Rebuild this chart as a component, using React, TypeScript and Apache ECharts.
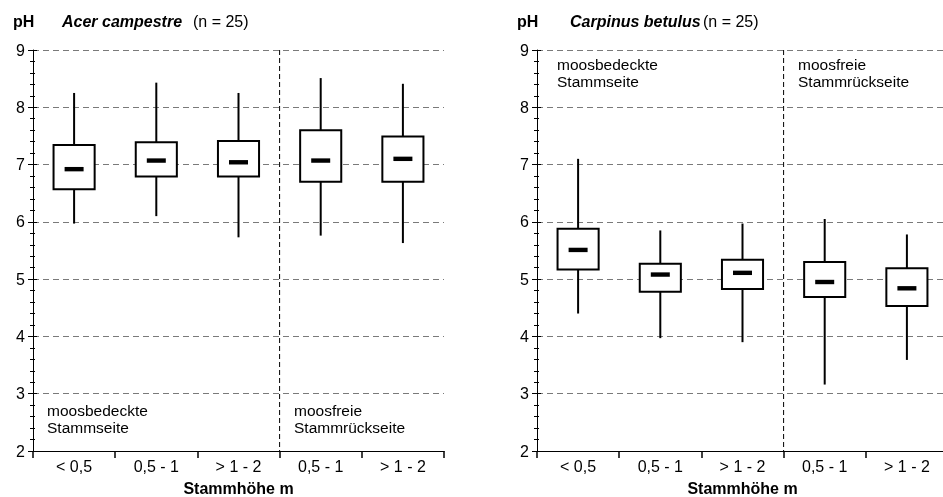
import React, { useEffect, useRef } from "react";
import * as echarts from "echarts";

const categories = ["< 0,5", "0,5 - 1", "> 1 - 2", "0,5 - 1", "> 1 - 2"];
// [low, q1, median, q3, high]
const acerValues = [
  [5.97, 6.57, 6.92, 7.34, 8.25],
  [6.1, 6.79, 7.07, 7.39, 8.43],
  [5.73, 6.79, 7.04, 7.41, 8.25],
  [5.76, 6.7, 7.07, 7.6, 8.51],
  [5.63, 6.7, 7.1, 7.49, 8.41],
];
const carpinusValues = [
  [4.4, 5.17, 5.51, 5.88, 7.1],
  [3.97, 4.78, 5.08, 5.27, 5.85],
  [3.9, 4.83, 5.11, 5.34, 5.97],
  [3.16, 4.69, 4.95, 5.3, 6.05],
  [3.59, 4.53, 4.84, 5.19, 5.78],
];
const yTicks = { min: 2, max: 9, interval: 1 };
const dividerIndex = 3;

const FONT = "Liberation Sans, Arial, sans-serif";

function renderBox(params: any, api: any) {
  const idx = api.value(0);
  const low = api.coord([idx, api.value(1)]);
  const q1 = api.coord([idx, api.value(2)]);
  const med = api.coord([idx, api.value(3)]);
  const q3 = api.coord([idx, api.value(4)]);
  const high = api.coord([idx, api.value(5)]);
  const band = api.size([1, 0])[0];
  const bw = band * 0.5;
  const x = low[0];
  const children: any[] = [
    { type: "line", shape: { x1: x, y1: low[1], x2: x, y2: q1[1] }, style: { stroke: "#000", lineWidth: 2 } },
    { type: "line", shape: { x1: x, y1: q3[1], x2: x, y2: high[1] }, style: { stroke: "#000", lineWidth: 2 } },
    { type: "rect", shape: { x: x - bw / 2, y: q3[1], width: bw, height: q1[1] - q3[1] }, style: { fill: "#fff", stroke: "#000", lineWidth: 2 } },
    { type: "rect", shape: { x: x - 9.5, y: med[1] - 2.2, width: 19, height: 4.4 }, style: { fill: "#000" } },
  ];
  if (idx === dividerIndex) {
    const top = api.coord([idx, yTicks.max]);
    const bottom = api.coord([idx, yTicks.min]);
    const dx = x - band / 2;
    children.unshift({
      type: "line",
      shape: { x1: dx, y1: top[1], x2: dx, y2: bottom[1] },
      style: { stroke: "#000", lineWidth: 1, lineDash: [5, 3] },
    });
  }
  return { type: "group", children };
}

function toData(vals: number[][]) {
  return vals.map((v, i) => [i, ...v]);
}

export default function App() {
  const ref = useRef<HTMLDivElement>(null);
  useEffect(() => {
    if (!ref.current) return;
    const chart = echarts.init(ref.current, undefined, { renderer: "svg" });
    const xAxisBase = (gridIndex: number) => ({
      type: "category",
      gridIndex,
      data: categories,
      boundaryGap: true,
      axisLine: { lineStyle: { color: "#000", width: 1 } },
      axisTick: { show: true, length: 7, lineStyle: { color: "#000", width: 1.5 } },
      axisLabel: { color: "#000", fontSize: 16, fontFamily: FONT, margin: 7 },
      name: "Stammhöhe m",
      nameLocation: "middle",
      nameGap: 29,
      nameTextStyle: { color: "#000", fontSize: 16, fontWeight: "bold", fontFamily: FONT },
      splitLine: { show: false },
    });
    const yAxisBase = (gridIndex: number) => ({
      type: "value",
      gridIndex,
      min: yTicks.min,
      max: yTicks.max,
      interval: yTicks.interval,
      axisLine: { show: true, lineStyle: { color: "#000", width: 1 } },
      axisTick: { show: true, length: 5, lineStyle: { color: "#000" } },
      minorTick: { show: true, splitNumber: 5, length: 3, lineStyle: { color: "#000" } },
      axisLabel: { color: "#000", fontSize: 16, fontFamily: FONT, margin: 8 },
      splitLine: { show: true, lineStyle: { color: "#7a7a7a", type: [6, 4], width: 1 } },
    });
    const yAxisInner = (gridIndex: number) => ({
      type: "value",
      gridIndex,
      position: "left",
      min: yTicks.min,
      max: yTicks.max,
      interval: yTicks.interval,
      axisLine: { show: false },
      axisTick: { show: true, inside: true, length: 4, lineStyle: { color: "#000" } },
      minorTick: { show: true, splitNumber: 5, length: 2, lineStyle: { color: "#000" } },
      axisLabel: { show: false },
      splitLine: { show: false },
    });
    const textStyle = (extra: any) => ({ fill: "#000", fontSize: 16, fontFamily: FONT, ...extra });
    chart.setOption({
      animation: false,
      grid: [
        { left: 33, top: 50, width: 411, height: 401, containLabel: false, outerBoundsMode: "none" },
        { left: 537, top: 50, width: 411, height: 401, containLabel: false, outerBoundsMode: "none" },
      ],
      xAxis: [xAxisBase(0), xAxisBase(1)],
      yAxis: [yAxisBase(0), yAxisBase(1), yAxisInner(0), yAxisInner(1)],
      series: [
        { type: "custom", xAxisIndex: 0, yAxisIndex: 0, renderItem: renderBox, data: toData(acerValues), encode: { x: 0, y: [1, 2, 3, 4, 5] }, clip: false },
        { type: "custom", xAxisIndex: 1, yAxisIndex: 1, renderItem: renderBox, data: toData(carpinusValues), encode: { x: 0, y: [1, 2, 3, 4, 5] }, clip: false },
      ],
      graphic: [
        { type: "text", left: 13, top: 13, style: textStyle({ text: "pH", fontWeight: "bold" }) },
        { type: "text", left: 62, top: 13, style: textStyle({ text: "Acer campestre", fontWeight: "bold", fontStyle: "italic" }) },
        { type: "text", left: 193, top: 13, style: textStyle({ text: "(n = 25)" }) },
        { type: "text", left: 517, top: 13, style: textStyle({ text: "pH", fontWeight: "bold" }) },
        { type: "text", left: 570, top: 13, style: textStyle({ text: "Carpinus betulus", fontWeight: "bold", fontStyle: "italic" }) },
        { type: "text", left: 703, top: 13, style: textStyle({ text: "(n = 25)" }) },
        { type: "text", left: 47, top: 402, style: textStyle({ text: "moosbedeckte\nStammseite", lineHeight: 17, fontSize: 15.5 }) },
        { type: "text", left: 294, top: 402, style: textStyle({ text: "moosfreie\nStammrückseite", lineHeight: 17, fontSize: 15.5 }) },
        { type: "text", left: 557, top: 56, style: textStyle({ text: "moosbedeckte\nStammseite", lineHeight: 17, fontSize: 15.5 }) },
        { type: "text", left: 798, top: 56, style: textStyle({ text: "moosfreie\nStammrückseite", lineHeight: 17, fontSize: 15.5 }) },
      ],
    });
    return () => chart.dispose();
  }, []);
  return <div ref={ref} style={{ position: "fixed", left: 0, top: 0, width: 943, height: 497 }} />;
}
